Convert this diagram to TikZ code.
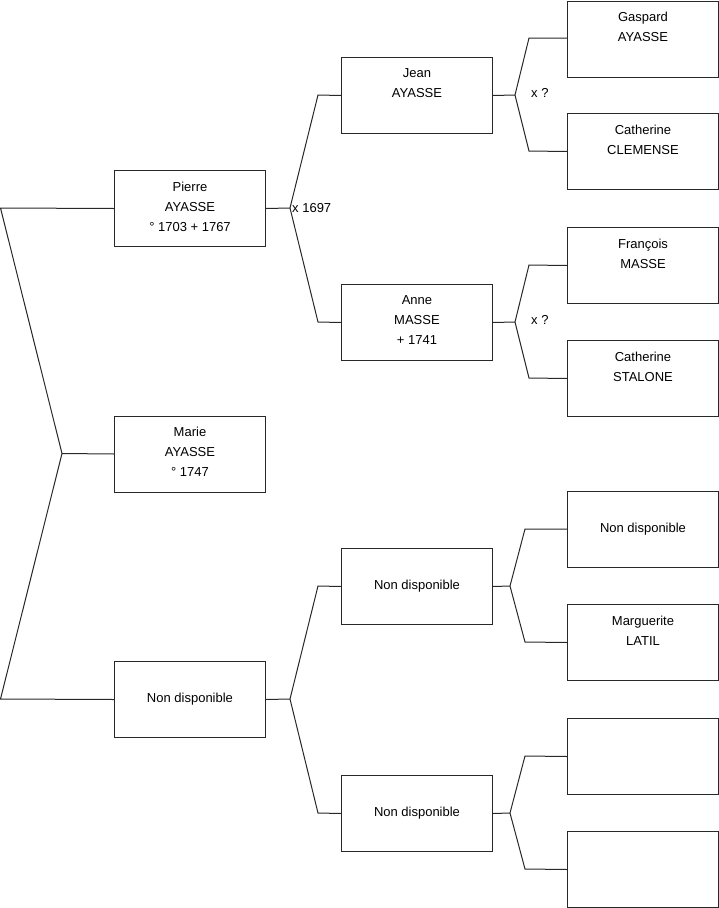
\documentclass[tikz,border=0pt]{standalone}
\usepackage{fontspec}
\setmainfont{Liberation Sans}
\definecolor{linec}{RGB}{40,40,40}
\begin{document}
\begin{tikzpicture}[x=1pt,y=-1pt,
  box/.style={draw=linec, line width=1pt, minimum width=151pt, minimum height=76pt,
    inner sep=0pt, anchor=north west, align=center, font=\fontsize{13}{20}\selectfont},
  multi/.style={box, text depth=4pt},
  conn/.style={draw=linec, line width=1pt},
  lbl/.style={anchor=west, inner sep=0pt, font=\fontsize{13}{15}\selectfont}]
\useasboundingbox (0,0) rectangle (719,908);
% generation 1
\node[multi] (pierre) at (114,170) {Pierre\\AYASSE\\° 1703 + 1767};
\node[multi] (marie) at (114,415.5) {Marie\\AYASSE\\° 1747};
\node[box] (nd1) at (114,661) {Non disponible};
% generation 2
\node[multi] (jean) at (341,57) {Jean\\AYASSE\\\phantom{0}};
\node[multi] (anne) at (341,284) {Anne\\MASSE\\+ 1741};
\node[box] (nd2a) at (341,548) {Non disponible};
\node[box] (nd2b) at (341,775) {Non disponible};
% generation 3
\node[multi] (gaspard) at (567,0.5) {Gaspard\\AYASSE\\\phantom{0}};
\node[multi] (cclem) at (567,113) {Catherine\\CLEMENSE\\\phantom{0}};
\node[multi] (francois) at (567,227) {François\\MASSE\\\phantom{0}};
\node[multi] (cstal) at (567,340) {Catherine\\STALONE\\\phantom{0}};
\node[box] (nd3a) at (567,491) {Non disponible};
\node[multi] (marg) at (567,604) {Marguerite\\LATIL\\\phantom{0}};
\node[box] (e1) at (567,718) {};
\node[box] (e2) at (567,831) {};
% junction points
\coordinate (j0) at (62,453.5);
\coordinate (a0) at (0.5,208);
\coordinate (b0) at (0.5,699);
\coordinate (jp) at (290,208);
\coordinate (jpa) at (318,95);
\coordinate (jpb) at (318,322);
\coordinate (jn) at (290,699);
\coordinate (jna) at (318,586);
\coordinate (jnb) at (318,813);
\coordinate (jj) at (515,95);
\coordinate (jja) at (529,38);
\coordinate (jjb) at (529,151);
\coordinate (ja) at (515,322);
\coordinate (jaa) at (529,265);
\coordinate (jab) at (529,378);
\coordinate (jx) at (510,586);
\coordinate (jxa) at (525,529);
\coordinate (jxb) at (525,642);
\coordinate (jy) at (510,813);
\coordinate (jya) at (525,756);
\coordinate (jyb) at (525,869);
% connectors
\draw[conn] (pierre.west) -- (a0) -- (j0) -- (b0) -- (nd1.west);
\draw[conn] (marie.west) -- (j0);
\draw[conn] (pierre.east) -- (jp);
\draw[conn] (jean.west) -- (jpa) -- (jp) -- (jpb) -- (anne.west);
\draw[conn] (nd1.east) -- (jn);
\draw[conn] (nd2a.west) -- (jna) -- (jn) -- (jnb) -- (nd2b.west);
\draw[conn] (jean.east) -- (jj);
\draw[conn] (gaspard.west |- jja) -- (jja) -- (jj) -- (jjb) -- (cclem.west);
\draw[conn] (anne.east) -- (ja);
\draw[conn] (francois.west) -- (jaa) -- (ja) -- (jab) -- (cstal.west);
\draw[conn] (nd2a.east) -- (jx);
\draw[conn] (nd3a.west |- jxa) -- (jxa) -- (jx) -- (jxb) -- (marg.west);
\draw[conn] (nd2b.east) -- (jy);
\draw[conn] (e1.west) -- (jya) -- (jy) -- (jyb) -- (e2.west);
% labels
\node[lbl] (m1) at (292,208) {x 1697};
\node[lbl] (m2) at (531,93) {x ?};
\node[lbl] (m3) at (531,320) {x ?};
\end{tikzpicture}
\end{document}
